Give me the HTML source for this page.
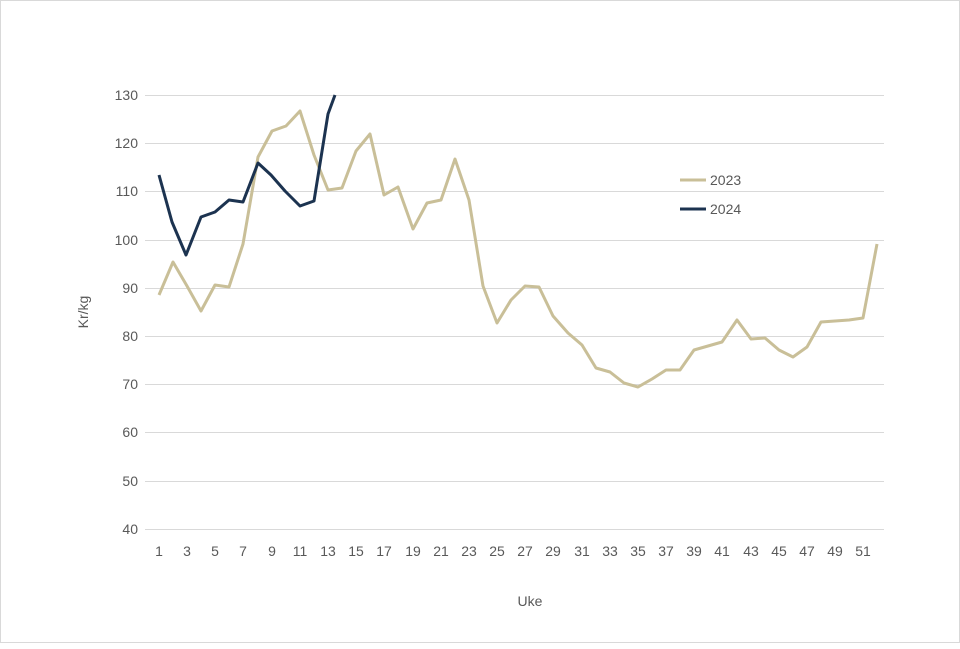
<!DOCTYPE html>
<html><head><meta charset="utf-8"><style>
html,body{margin:0;padding:0;background:#fff;}
body{width:960px;height:644px;overflow:hidden;}
text{font-family:"Liberation Sans",sans-serif;fill:#595959;font-size:14px;}
</style></head><body>
<svg width="960" height="644" xmlns="http://www.w3.org/2000/svg">
<rect x="0.5" y="0.5" width="959" height="642" fill="#fff" stroke="#d9d9d9"/>
<g stroke="#d9d9d9" stroke-width="1">
<line x1="145" x2="884" y1="95.5" y2="95.5"/>
<line x1="145" x2="884" y1="143.5" y2="143.5"/>
<line x1="145" x2="884" y1="191.5" y2="191.5"/>
<line x1="145" x2="884" y1="240.5" y2="240.5"/>
<line x1="145" x2="884" y1="288.5" y2="288.5"/>
<line x1="145" x2="884" y1="336.5" y2="336.5"/>
<line x1="145" x2="884" y1="384.5" y2="384.5"/>
<line x1="145" x2="884" y1="432.5" y2="432.5"/>
<line x1="145" x2="884" y1="481.5" y2="481.5"/>
<line x1="145" x2="884" y1="529.5" y2="529.5"/>
</g>
<g text-anchor="end">
<text x="138" y="100">130</text><text x="138" y="148">120</text><text x="138" y="196">110</text>
<text x="138" y="245">100</text><text x="138" y="293">90</text><text x="138" y="341">80</text>
<text x="138" y="389">70</text><text x="138" y="437">60</text><text x="138" y="486">50</text>
<text x="138" y="534">40</text>
</g>
<g text-anchor="middle">
<text x="159" y="556">1</text><text x="187" y="556">3</text><text x="215" y="556">5</text>
<text x="243" y="556">7</text><text x="272" y="556">9</text><text x="300" y="556">11</text>
<text x="328" y="556">13</text><text x="356" y="556">15</text><text x="384" y="556">17</text>
<text x="413" y="556">19</text><text x="441" y="556">21</text><text x="469" y="556">23</text>
<text x="497" y="556">25</text><text x="525" y="556">27</text><text x="553" y="556">29</text>
<text x="582" y="556">31</text><text x="610" y="556">33</text><text x="638" y="556">35</text>
<text x="666" y="556">37</text><text x="694" y="556">39</text><text x="722" y="556">41</text>
<text x="751" y="556">43</text><text x="779" y="556">45</text><text x="807" y="556">47</text>
<text x="835" y="556">49</text><text x="863" y="556">51</text>
<text x="530" y="606">Uke</text>
<text transform="translate(88,312) rotate(-90)">Kr/kg</text>
</g>
<polyline fill="none" stroke="#c9bf98" stroke-width="3" stroke-linejoin="round" points="159,295 173,262 187,286 201,311 215,285 229,287 243,244 258,157 272,131 286,126 300,111 314,155 328,190 342,188 356,151 370,134 384,195 398,187 413,229 427,203 441,200 455,159 469,200 483,286 497,323 511,300 525,286 539,287 553,316 568,333 582,345 596,368 610,372 624,383 638,387 652,379 666,370 680,370 694,350 708,346 722,342 737,320 751,339 765,338 779,350 793,357 807,347 821,322 835,321 849,320 863,318 877,244"/>
<polyline fill="none" stroke="#1c3350" stroke-width="3" stroke-linejoin="round" points="159,175 172,222 186,255 201,217 215,212 229,200 243,202 258,163 271,175 285,191 300,206 314,201 328,114 335,95"/>
<line x1="680" x2="706" y1="180" y2="180" stroke="#c9bf98" stroke-width="3"/>
<text x="710" y="185">2023</text>
<line x1="680" x2="706" y1="209" y2="209" stroke="#1c3350" stroke-width="3"/>
<text x="710" y="214">2024</text>
</svg>
</body></html>
